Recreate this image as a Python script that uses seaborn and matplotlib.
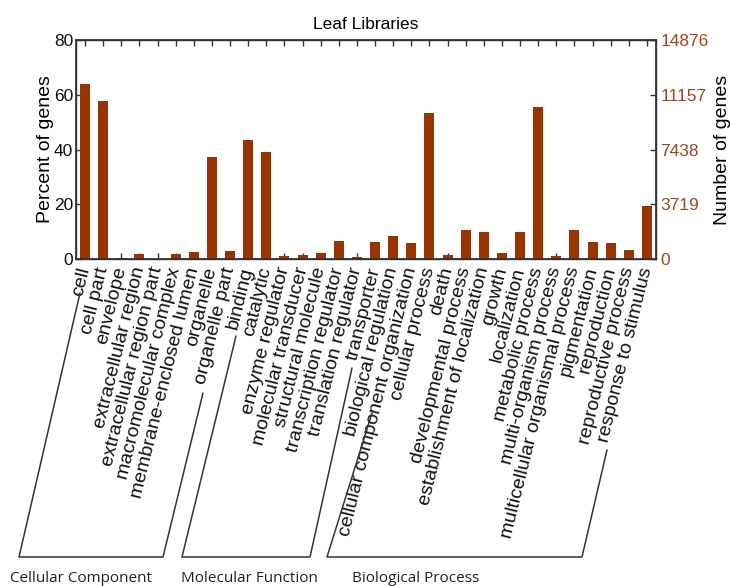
import matplotlib
matplotlib.use("Agg")
import matplotlib.pyplot as plt
from matplotlib.lines import Line2D
import seaborn as sns
import pandas as pd

# GO term categories, grouped by ontology
cellular_component = [
    "cell", "cell part", "envelope", "extracellular region",
    "extracellular region part", "macromolecular complex",
    "membrane-enclosed lumen", "organelle", "organelle part",
]
molecular_function = [
    "binding", "catalytic", "enzyme regulator", "molecular transducer",
    "structural molecule", "transcription regulator",
    "translation regulator", "transporter",
]
biological_process = [
    "biological regulation", "cellular component organization",
    "cellular process", "death", "developmental process",
    "establishment of localization", "growth", "localization",
    "metabolic process", "multi-organism process",
    "multicellular organismal process", "pigmentation", "reproduction",
    "reproductive process", "response to stimulus",
]

# Percent of genes annotated to each term
cc_percent = [63.8, 57.9, 0.4, 1.7, 0.1, 1.8, 2.4, 37.1, 2.8]
mf_percent = [43.4, 39.0, 1.1, 1.3, 2.2, 6.6, 0.7, 6.3]
bp_percent = [8.5, 5.8, 53.3, 1.5, 10.7, 10.0, 2.2, 10.0,
              55.4, 1.1, 10.5, 6.3, 5.8, 3.2, 19.5]

percent_ticks = [0, 20, 40, 60, 80]
gene_count_ticks = [0, 3719, 7438, 11157, 14876]

categories = cellular_component + molecular_function + biological_process
percents = cc_percent + mf_percent + bp_percent
df = pd.DataFrame({"term": categories, "percent": percents})

bar_color = "#993300"
count_color = "#A0461E"
font = "Liberation Sans"

sns.set_theme(style="white")
plt.rcParams["font.family"] = [font, "DejaVu Sans"]

fig = plt.figure(figsize=(7.3, 5.86), dpi=100)
ax = fig.add_axes([0.1041, 0.558, 0.7945, 0.3737])

sns.barplot(data=df, x="term", y="percent", color=bar_color,
            width=0.55, saturation=1, ax=ax, edgecolor="none")

ax.set_xlim(-0.5, len(categories) - 0.5)
ax.set_ylim(percent_ticks[0], percent_ticks[-1])
ax.set_yticks(percent_ticks)
ax.set_ylabel("Percent of genes", fontsize=14, labelpad=0, color="black")
ax.set_xlabel("")
ax.set_title("Leaf Libraries", fontsize=12.5, pad=8, color="black")

ax.set_xticks(range(len(categories)))
ax.set_xticklabels(categories, rotation=76, ha="right", va="center",
                   rotation_mode="anchor", fontsize=14, color="#111111")
ax.tick_params(axis="x", which="both", direction="in", length=4, width=1,
               top=True, bottom=True, pad=6, color="#333333")
ax.tick_params(axis="y", direction="in", length=4, width=1, left=True,
               right=False, labelsize=12.5, pad=2, color="#333333",
               labelcolor="#111111")
for s in ax.spines.values():
    s.set_visible(True)
    s.set_color("#333333")
    s.set_linewidth(1)

# Secondary axis with absolute gene counts
ax2 = ax.twinx()
ax2.set_ylim(gene_count_ticks[0], gene_count_ticks[-1])
ax2.set_yticks(gene_count_ticks)
ax2.set_yticklabels([str(t) for t in gene_count_ticks])
ax2.tick_params(axis="y", direction="in", length=4, width=1,
                labelsize=12.5, pad=3, labelcolor=count_color,
                color="#333333")
ax2.set_ylabel("Number of genes", fontsize=14, labelpad=4, color="black")
ax2.grid(False)
for s in ax2.spines.values():
    s.set_color("#333333")

# Ontology brackets beneath the term labels (pixel coordinates)
W, H = 730, 586
brackets = [
    [(80, 293), (19, 557), (163, 557), (203, 393)],
    [(236, 336), (182, 557), (310, 557), (352, 368)],
    [(372, 413), (327, 557), (582, 557), (607, 450)],
]
for pts in brackets:
    xs = [p[0] / W for p in pts]
    ys = [1 - p[1] / H for p in pts]
    fig.add_artist(Line2D(xs, ys, color="#333333", lw=1.1,
                          transform=fig.transFigure))

group_labels = ["Cellular Component", "Molecular Function", "Biological Process"]
group_x = [81, 249, 416]
for lbl, gx in zip(group_labels, group_x):
    fig.text(gx / W, 1 - 578 / H, lbl, ha="center", va="center",
             fontsize=11, family=["Open Sans", "DejaVu Sans"],
             color="#222222")

fig.savefig("out.png", dpi=100)
